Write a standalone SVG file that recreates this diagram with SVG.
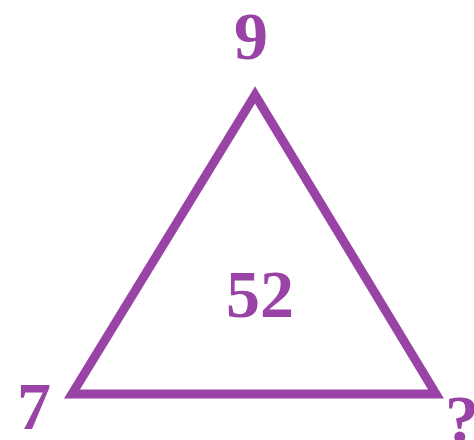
<svg xmlns="http://www.w3.org/2000/svg" width="474" height="440" viewBox="0 0 474 440">
<style>
.t{font-family:"Liberation Serif","Times New Roman",serif;font-weight:bold;fill:#9a43a6;font-size:68px;text-anchor:middle}
</style>
<rect width="474" height="440" fill="#fff"/>
<g id="triangle"><path d="M255,95 L72,394 L436,394 Z" fill="none" stroke="#9a43a6" stroke-width="9" stroke-linejoin="miter"/></g>
<g id="top"><text class="t" x="251" y="59">9</text></g>
<g id="left"><text class="t" x="34" y="429">7</text></g>
<g id="right"><text class="t" x="462" y="442">?</text></g>
<g id="center"><text class="t" x="260" y="317">52</text></g>
</svg>
